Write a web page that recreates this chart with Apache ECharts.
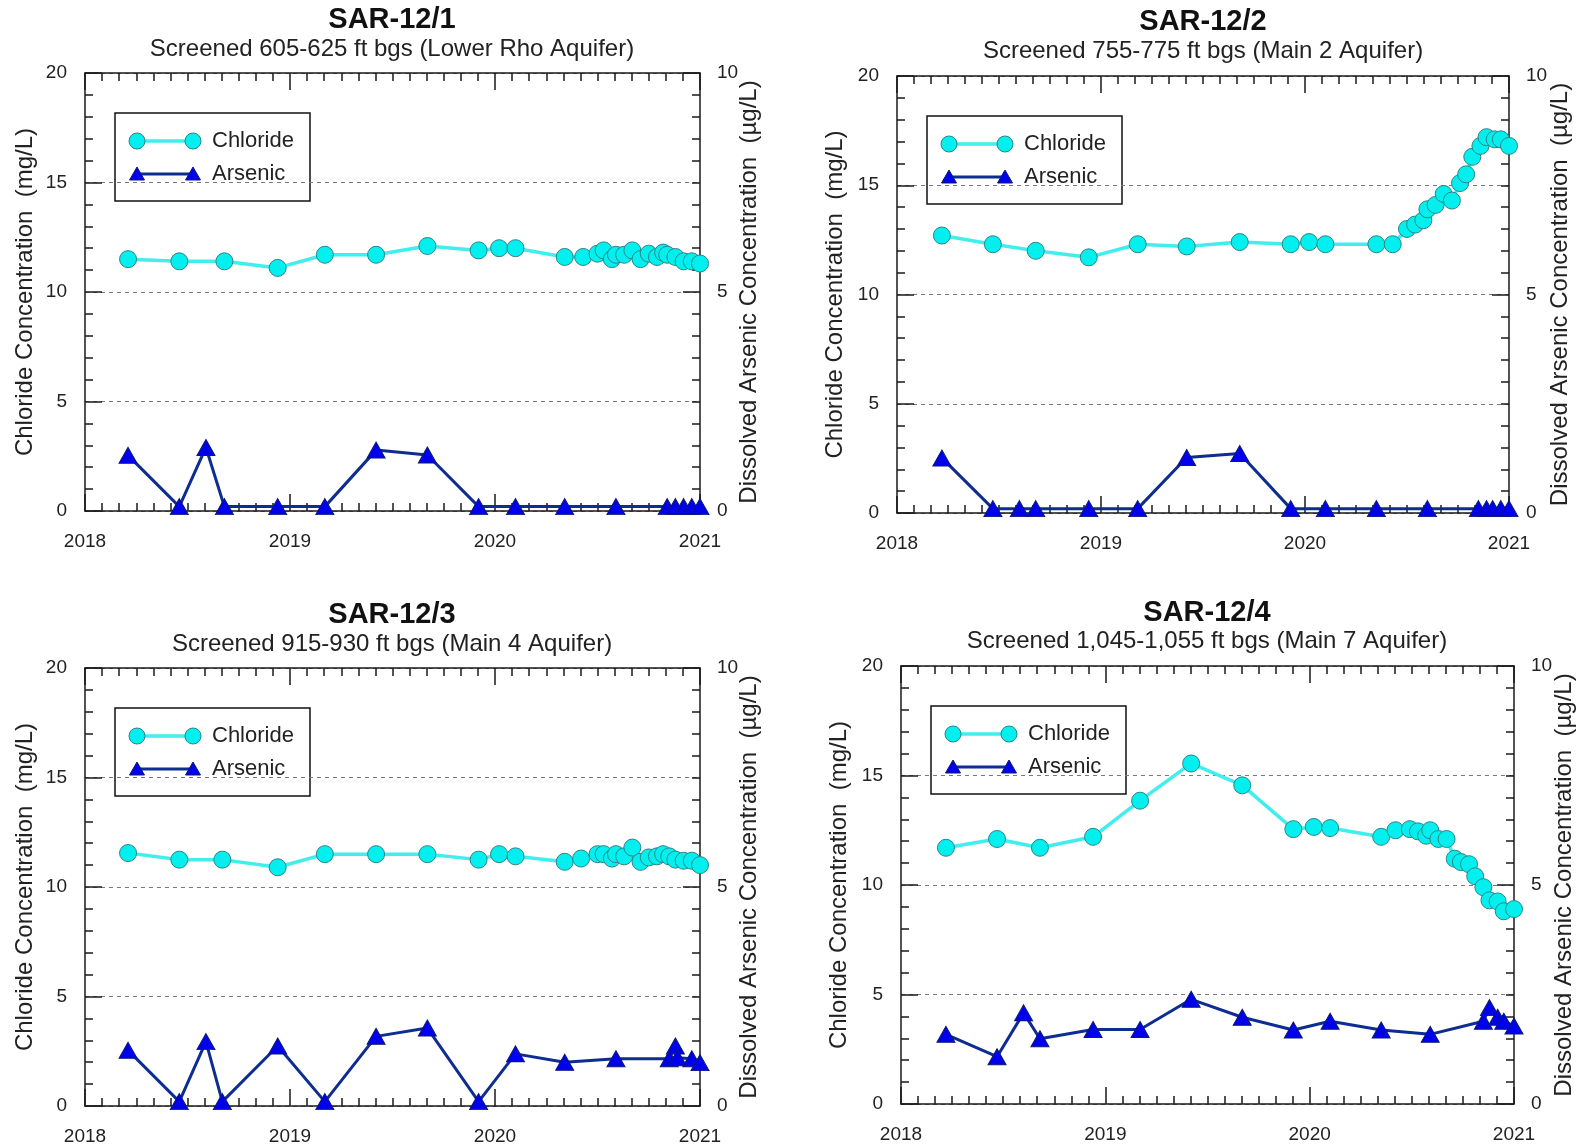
<!DOCTYPE html>
<html><head><meta charset="utf-8">
<script src="https://cdn.jsdelivr.net/npm/echarts@6/dist/echarts.min.js"></script>
<style>html,body{margin:0;padding:0;background:#fff}#c{width:1582px;height:1146px}</style>
</head><body><div id="c"></div>
<script>
// ---------- DATA (x values are decimal years) ----------
const yearTicks = [2018, 2019, 2020, 2021];
const chlorideTicks = [0, 5, 10, 15, 20];
const arsenicTicks = [0, 5, 10];

const wellTitles = ['SAR-12/1', 'SAR-12/2', 'SAR-12/3', 'SAR-12/4'];
const wellSubtitles = [
  'Screened 605-625 ft bgs (Lower Rho Aquifer)',
  'Screened 755-775 ft bgs (Main 2 Aquifer)',
  'Screened 915-930 ft bgs (Main 4 Aquifer)',
  'Screened 1,045-1,055 ft bgs (Main 7 Aquifer)'
];

// SAR-12/1
const clYears1 = [2018.21, 2018.46, 2018.68, 2018.94, 2019.17, 2019.42, 2019.67, 2019.92, 2020.02, 2020.10, 2020.34, 2020.43, 2020.50, 2020.53, 2020.57, 2020.59, 2020.63, 2020.67, 2020.71, 2020.75, 2020.79, 2020.82, 2020.84, 2020.88, 2020.92, 2020.96, 2021.00];
const clVals1  = [11.5, 11.4, 11.4, 11.1, 11.7, 11.7, 12.1, 11.9, 12.0, 12.0, 11.6, 11.6, 11.75, 11.9, 11.5, 11.7, 11.7, 11.9, 11.5, 11.75, 11.6, 11.8, 11.7, 11.6, 11.4, 11.4, 11.3];
const asYears1 = [2018.21, 2018.46, 2018.59, 2018.68, 2018.94, 2019.17, 2019.42, 2019.67, 2019.92, 2020.10, 2020.34, 2020.59, 2020.84, 2020.88, 2020.92, 2020.96, 2021.00];
const asVals1  = [1.27, 0.1, 1.45, 0.1, 0.1, 0.1, 1.39, 1.28, 0.1, 0.1, 0.1, 0.1, 0.1, 0.1, 0.1, 0.1, 0.1];

// SAR-12/2
const clYears2 = [2018.22, 2018.47, 2018.68, 2018.94, 2019.18, 2019.42, 2019.68, 2019.93, 2020.02, 2020.10, 2020.35, 2020.43, 2020.50, 2020.54, 2020.58, 2020.60, 2020.64, 2020.68, 2020.72, 2020.76, 2020.79, 2020.82, 2020.86, 2020.89, 2020.93, 2020.96, 2021.00];
const clVals2  = [12.7, 12.3, 12.0, 11.7, 12.3, 12.2, 12.4, 12.3, 12.4, 12.3, 12.3, 12.3, 13.0, 13.2, 13.4, 13.9, 14.1, 14.6, 14.3, 15.1, 15.5, 16.3, 16.8, 17.2, 17.1, 17.1, 16.8];
const asYears2 = [2018.22, 2018.47, 2018.60, 2018.68, 2018.94, 2019.18, 2019.42, 2019.68, 2019.93, 2020.10, 2020.35, 2020.60, 2020.85, 2020.89, 2020.92, 2020.96, 2021.00];
const asVals2  = [1.26, 0.1, 0.1, 0.1, 0.1, 0.1, 1.27, 1.36, 0.1, 0.1, 0.1, 0.1, 0.1, 0.1, 0.1, 0.1, 0.1];

// SAR-12/3
const clYears3 = [2018.21, 2018.46, 2018.67, 2018.94, 2019.17, 2019.42, 2019.67, 2019.92, 2020.02, 2020.10, 2020.34, 2020.42, 2020.50, 2020.53, 2020.57, 2020.59, 2020.63, 2020.67, 2020.71, 2020.75, 2020.79, 2020.82, 2020.85, 2020.88, 2020.92, 2020.96, 2021.00];
const clVals3  = [11.55, 11.25, 11.25, 10.9, 11.5, 11.5, 11.5, 11.25, 11.5, 11.4, 11.15, 11.3, 11.5, 11.5, 11.3, 11.5, 11.4, 11.8, 11.15, 11.35, 11.4, 11.5, 11.4, 11.25, 11.2, 11.2, 11.0];
const asYears3 = [2018.21, 2018.46, 2018.59, 2018.67, 2018.94, 2019.17, 2019.42, 2019.67, 2019.92, 2020.10, 2020.34, 2020.59, 2020.85, 2020.88, 2020.89, 2020.96, 2021.00];
const asVals3  = [1.27, 0.1, 1.47, 0.1, 1.37, 0.1, 1.59, 1.78, 0.1, 1.19, 1.0, 1.08, 1.08, 1.37, 1.1, 1.08, 0.99];

// SAR-12/4
const clYears4 = [2018.22, 2018.47, 2018.68, 2018.94, 2019.17, 2019.42, 2019.67, 2019.92, 2020.02, 2020.10, 2020.35, 2020.42, 2020.49, 2020.53, 2020.57, 2020.59, 2020.63, 2020.67, 2020.71, 2020.74, 2020.78, 2020.81, 2020.85, 2020.88, 2020.92, 2020.95, 2021.00];
const clVals4  = [11.7, 12.1, 11.7, 12.2, 13.85, 15.55, 14.55, 12.55, 12.65, 12.6, 12.2, 12.5, 12.55, 12.45, 12.25, 12.5, 12.1, 12.1, 11.2, 11.05, 10.95, 10.4, 9.9, 9.3, 9.25, 8.8, 8.9];
const asYears4 = [2018.22, 2018.47, 2018.60, 2018.68, 2018.94, 2019.17, 2019.42, 2019.67, 2019.92, 2020.10, 2020.35, 2020.59, 2020.85, 2020.88, 2020.92, 2020.95, 2021.00];
const asVals4  = [1.59, 1.08, 2.08, 1.49, 1.7, 1.7, 2.39, 1.98, 1.69, 1.89, 1.69, 1.59, 1.89, 2.2, 1.98, 1.89, 1.78];

const seriesNames = ['Chloride', 'Arsenic'];
const leftAxisName = 'Chloride Concentration  (mg/L)';
const rightAxisName = 'Dissolved Arsenic Concentration  (\u00b5g/L)';

// ---------- LAYOUT / STYLE ----------
const FONT = '"Liberation Sans", Arial, sans-serif';
const INK = '#1a1a1a';
const CL_LINE = '#40eeee', CL_FILL = '#00f0f0', CL_EDGE = '#2f8585';
const AS_LINE = '#0d2d91', AS_FILL = '#0000ee', AS_EDGE = '#0a1a70';

const layout = [
  {grid: {left: 85, top: 73, width: 615, height: 438}, titleX: 392, titleTop: 5, gap: 3, lGap: 48, rGap: 37},
  {grid: {left: 897, top: 76, width: 612, height: 437}, titleX: 1203, titleTop: 7, gap: 3, lGap: 50, rGap: 39},
  {grid: {left: 85, top: 668, width: 615, height: 438}, titleX: 392, titleTop: 600, gap: 3, lGap: 48, rGap: 37},
  {grid: {left: 901, top: 666, width: 613, height: 438}, titleX: 1207, titleTop: 598, gap: 2, lGap: 50, rGap: 38}
];
const data = [
  [clYears1, clVals1, asYears1, asVals1],
  [clYears2, clVals2, asYears2, asVals2],
  [clYears3, clVals3, asYears3, asVals3],
  [clYears4, clVals4, asYears4, asVals4]
];
const zip = (xs, ys) => xs.map((x, i) => [x, ys[i]]);

const tickLine = {color: INK, width: 1.5};
function xAxis(i, pos) {
  return {
    gridIndex: i, type: 'value', position: pos,
    min: yearTicks[0], max: yearTicks[yearTicks.length - 1], interval: yearTicks[1] - yearTicks[0],
    axisLine: {show: true, onZero: false, lineStyle: {color: INK, width: 1.5}},
    axisTick: {show: true, inside: true, length: 17, lineStyle: tickLine},
    minorTick: {show: true, splitNumber: 12, length: 8, lineStyle: tickLine},
    axisLabel: {show: pos === 'bottom', formatter: v => String(v), fontSize: 19, margin: 21, color: '#222', fontFamily: FONT, showMinLabel: true, showMaxLabel: true},
    splitLine: {show: false}
  };
}

const grids = [], xAxes = [], yAxes = [], series = [], titles = [], graphics = [];
layout.forEach((L, i) => {
  grids.push(Object.assign({}, L.grid));
  xAxes.push(xAxis(i, 'bottom'));
  xAxes.push(xAxis(i, 'top'));
  yAxes.push({
    gridIndex: i, type: 'value', position: 'left',
    min: chlorideTicks[0], max: chlorideTicks[chlorideTicks.length - 1], interval: chlorideTicks[1] - chlorideTicks[0],
    axisLine: {show: true, onZero: false, lineStyle: {color: INK, width: 1.5}},
    axisTick: {show: true, inside: true, length: 17, lineStyle: tickLine},
    minorTick: {show: true, splitNumber: 5, length: 8, lineStyle: tickLine},
    axisLabel: {fontSize: 19, margin: 18, color: '#222', fontFamily: FONT},
    splitLine: {show: true, lineStyle: {type: [4, 4], color: '#7a7a7a', width: 1}},
    name: leftAxisName, nameLocation: 'middle', nameRotate: 90, nameGap: L.lGap, nameMoveOverlap: false,
    nameTextStyle: {fontSize: 24, color: '#222', fontFamily: FONT}
  });
  yAxes.push({
    gridIndex: i, type: 'value', position: 'right',
    min: arsenicTicks[0], max: arsenicTicks[arsenicTicks.length - 1], interval: arsenicTicks[1] - arsenicTicks[0],
    axisLine: {show: true, onZero: false, lineStyle: {color: INK, width: 1.5}},
    axisTick: {show: true, inside: true, length: 17, lineStyle: tickLine},
    minorTick: {show: true, splitNumber: 10, length: 8, lineStyle: tickLine},
    axisLabel: {fontSize: 19, margin: 17, color: '#222', fontFamily: FONT},
    splitLine: {show: false},
    name: rightAxisName, nameLocation: 'middle', nameRotate: 90, nameGap: L.rGap, nameMoveOverlap: false,
    nameTextStyle: {fontSize: 24, color: '#222', fontFamily: FONT}
  });
  const d = data[i];
  series.push({
    type: 'line', name: seriesNames[0], xAxisIndex: 2 * i, yAxisIndex: 2 * i,
    data: zip(d[0], d[1]), symbol: 'circle', symbolSize: 17, z: 3,
    lineStyle: {color: CL_LINE, width: 3.5},
    itemStyle: {color: CL_FILL, borderColor: CL_EDGE, borderWidth: 1}
  });
  series.push({
    type: 'line', name: seriesNames[1], xAxisIndex: 2 * i, yAxisIndex: 2 * i + 1,
    data: zip(d[2], d[3]), symbol: 'triangle', symbolSize: [18, 16], z: 4,
    lineStyle: {color: AS_LINE, width: 3},
    itemStyle: {color: AS_FILL, borderColor: AS_EDGE, borderWidth: 1}
  });
  titles.push({
    text: wellTitles[i], subtext: wellSubtitles[i],
    left: L.titleX, top: L.titleTop, textAlign: 'center', padding: 0, itemGap: L.gap,
    textStyle: {fontSize: 29, fontWeight: 'bold', color: '#111', fontFamily: FONT},
    subtextStyle: {fontSize: 24, color: '#222', fontFamily: FONT}
  });
  // legend box (drawn like the reference: a line with a marker at both ends)
  const gx = L.grid.left + 30, gy = L.grid.top + 40;
  const tri = (cx, cy) => [[cx, cy - 7], [cx + 7.5, cy + 6], [cx - 7.5, cy + 6]];
  graphics.push({
    type: 'group', x: gx, y: gy, z: 100,
    children: [
      {type: 'rect', shape: {x: 0, y: 0, width: 195, height: 88}, style: {fill: '#fff', stroke: '#111', lineWidth: 1.5}},
      {type: 'line', shape: {x1: 22, y1: 28, x2: 78, y2: 28}, style: {stroke: CL_LINE, lineWidth: 3.5}},
      {type: 'circle', shape: {cx: 22, cy: 28, r: 8}, style: {fill: CL_FILL, stroke: CL_EDGE, lineWidth: 1}},
      {type: 'circle', shape: {cx: 78, cy: 28, r: 8}, style: {fill: CL_FILL, stroke: CL_EDGE, lineWidth: 1}},
      {type: 'text', style: {text: seriesNames[0], x: 97, y: 28, verticalAlign: 'middle', fill: '#222', font: '22px ' + FONT}},
      {type: 'line', shape: {x1: 22, y1: 61, x2: 78, y2: 61}, style: {stroke: AS_LINE, lineWidth: 3}},
      {type: 'polygon', shape: {points: tri(22, 61)}, style: {fill: AS_FILL, stroke: AS_EDGE, lineWidth: 1}},
      {type: 'polygon', shape: {points: tri(78, 61)}, style: {fill: AS_FILL, stroke: AS_EDGE, lineWidth: 1}},
      {type: 'text', style: {text: seriesNames[1], x: 97, y: 61, verticalAlign: 'middle', fill: '#222', font: '22px ' + FONT}}
    ]
  });
});

const chart = echarts.init(document.getElementById('c'), null, {renderer: 'canvas'});
chart.setOption({
  animation: false,
  backgroundColor: '#fff',
  textStyle: {fontFamily: FONT},
  title: titles,
  grid: grids,
  xAxis: xAxes,
  yAxis: yAxes,
  series: series,
  graphic: graphics
});
</script></body></html>
